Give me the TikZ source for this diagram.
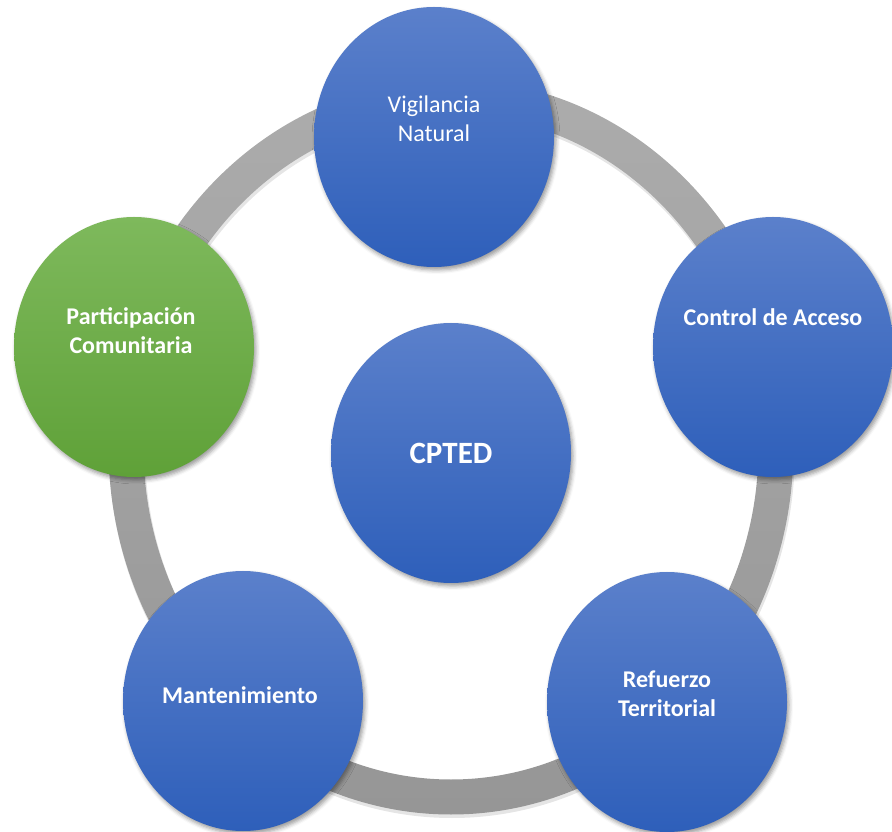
\documentclass[tikz,border=0pt]{standalone}
\usepackage{fontspec}
\setmainfont{Carlito}
\usetikzlibrary{shapes.geometric,shadows.blur}
\definecolor{bluetop}{HTML}{5B80CB}
\definecolor{bluebot}{HTML}{2E5FBA}
\definecolor{greentop}{HTML}{7EB95C}
\definecolor{greenbot}{HTML}{5FA138}
\definecolor{ringtop}{HTML}{ACACAC}
\definecolor{ringbot}{HTML}{969696}

\begin{document}
\begin{tikzpicture}[x=1pt,y=1pt,
	bubble/.style={ellipse,minimum width=240pt,minimum height=260pt,inner sep=0pt,
		top color=bluetop,bottom color=bluebot,
		blur shadow={shadow xshift=2pt,shadow yshift=-3pt,shadow blur radius=4pt,shadow opacity=40}},
	greenbubble/.style={bubble,top color=greentop,bottom color=greenbot},
	lbl/.style={text=white,align=center,inner sep=0pt}]
			\useasboundingbox (0,0) rectangle (892,831);
			% ring round the five parts
			\draw[black,opacity=0.1,line width=36pt] (452,381) ellipse [x radius=325,y radius=350];
			\shade[top color=ringtop,bottom color=ringbot,even odd rule]
				(451,384) ellipse [x radius=342.5,y radius=367.5]
				(451,384) ellipse [x radius=307.5,y radius=332.5];
			% outer parts
			\foreach \nm/\px/\py/\tx/\dy/\sty/\ft/\txt in {
				vig/434/694/0/18/bubble/\mdseries/{Vigilancia\\Natural},
				ctrl/773/484/0/30/bubble/\bfseries/{Control de Acceso},
				ref/667/129/0/8/bubble/\bfseries/{Refuerzo\\Territorial},
				mant/243/130/-3/6/bubble/\bfseries/{Mantenimiento},
				part/134/484/-3/16/greenbubble/\bfseries/{Participación\\Comunitaria}}{
				\node[\sty] (\nm) at (\px,\py) {};
				\node[lbl,font=\fontsize{24}{29}\selectfont\ft] at ([shift={(\tx,\dy)}]\nm.center) {\txt};
			}
			% centre
			\node[bubble] (cpted) at (451,378) {};
			\node[lbl,font=\fontsize{31}{37}\selectfont\bfseries] at (cpted.center) {CPTED};
\end{tikzpicture}
\end{document}
